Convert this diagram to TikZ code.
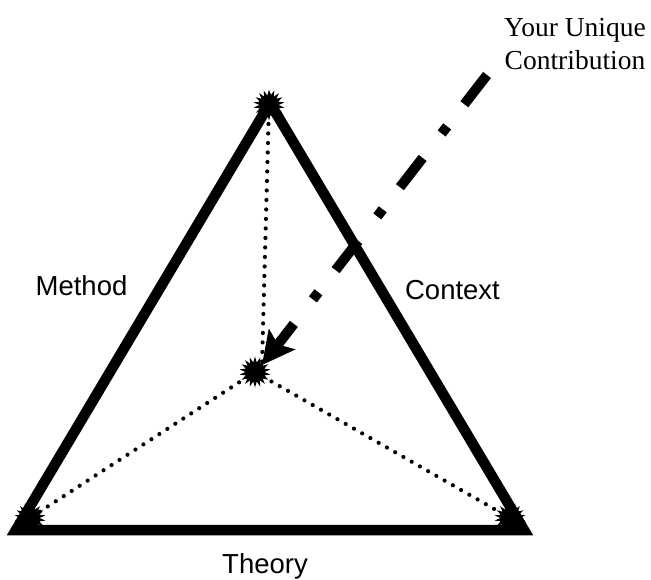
\documentclass[tikz,border=0pt]{standalone}
\usepackage{fontspec}
\setmainfont{Liberation Sans}
\newfontfamily\serifl{Liberation Serif}
\usetikzlibrary{shapes.geometric,arrows.meta}
\begin{document}
\begin{tikzpicture}[x=1pt,y=-1pt,
  burst/.style={star,star points=18,star point ratio=1.6,fill=black,minimum size=31pt,inner sep=0pt},
  edgeline/.style={line width=10.5pt,line join=miter,black},
  dotline/.style={line width=4.2pt,line cap=round,dash pattern=on 0pt off 9.5pt},
  lbl/.style={font=\fontsize{27.5}{33}\selectfont,anchor=base,inner sep=0pt},
  contrib/.style={line width=10pt,dash pattern=on 37pt off 28pt on 9pt off 31pt,
    -{Stealth[length=33pt,width=34pt,inset=7pt,line width=0pt]}}]
\useasboundingbox (0,0) rectangle (651,580);
\coordinate (A) at (270,103);
\coordinate (L) at (16,530);
\coordinate (R) at (524,530);
\draw[edgeline] (A) -- (L) -- (R) -- cycle;
\node[burst] (top) at (269,105) {};
\node[burst] (mid) at (255,372) {};
\node[burst] (bl) at (30,518) {};
\node[burst] (br) at (510,518) {};
\coordinate (tip) at (262,365);
\coordinate (start) at (487,75);
\draw[dotline] (top.center) -- (tip);
\draw[dotline] (mid.center) -- (bl.center);
\draw[dotline] (mid.center) -- (br.center);
\draw[contrib] (start) -- (tip);
\node[lbl] (method) at (81.5,296) {Method};
\node[lbl] (context) at (452.5,300) {Context};
\node[lbl] (theory) at (265,573) {Theory};
\node[lbl,font=\serifl\fontsize{27.5}{33}\selectfont,align=center] (yuc) at (575,70) {Your Unique\\Contribution};
\end{tikzpicture}
\end{document}
